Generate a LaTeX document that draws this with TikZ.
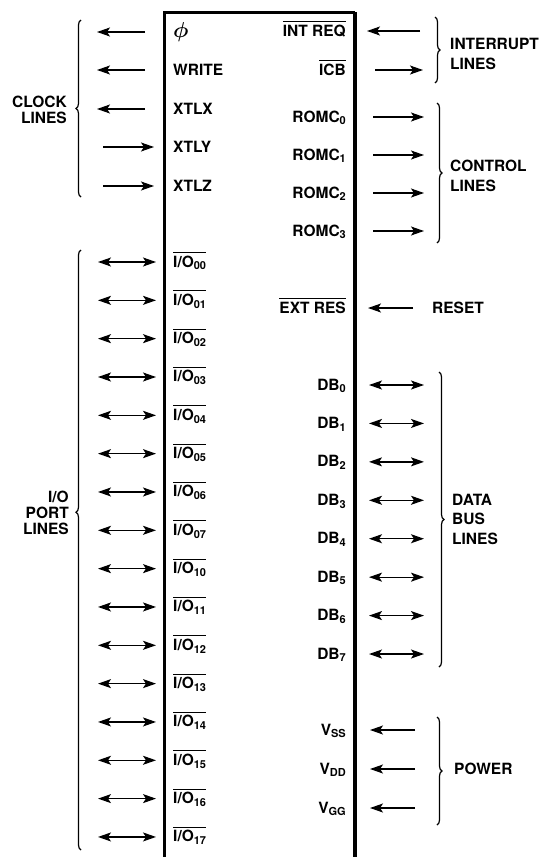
\documentclass[tikz,border=0pt]{standalone}
\usepackage{fontspec}
\usepackage{graphicx}
\setmainfont{TeX Gyre Heros}
\usetikzlibrary{arrows.meta,decorations.pathreplacing}
\newcommand\ovl[1]{\leavevmode\vbox{\hrule height 1.2pt\kern2.4pt\hbox{#1}}}
\newcommand\sbs[1]{\raisebox{-2.8pt}{\fontsize{11}{11}\selectfont #1}}
\begin{document}
\begin{tikzpicture}[x=1pt,y=-1pt,
  lbl/.style={font=\fontsize{15.5}{18}\selectfont\bfseries, inner sep=0pt},
  pinL/.style={lbl, anchor=base west},
  pinR/.style={lbl, anchor=base east},
  grpL/.style={font=\fontsize{15.5}{16}\selectfont\bfseries, inner sep=0pt, align=right, anchor=east},
  grpR/.style={font=\fontsize{15.5}{19.5}\selectfont\bfseries, inner sep=0pt, align=left, anchor=west},
  sig/.style={line width=1.3pt},
  arw/.style={sig, -{Stealth[length=13pt,width=9pt,inset=3pt]}},
  darw/.style={sig, {Stealth[length=13pt,width=9pt,inset=3pt]}-{Stealth[length=13pt,width=9pt,inset=3pt]}},
  brc/.style={line width=1.2pt, decorate, decoration={brace, amplitude=5pt}}
]
\useasboundingbox (0,0) rectangle (540,857);
% chip outline
\coordinate (bl) at (164,875);
\coordinate (tl) at (164,12);
\coordinate (tr) at (355,12);
\coordinate (br) at (355,875);
\draw[line width=3pt] (bl) -- (tl) -- (tr);
\draw[line width=3.8pt] (tr) -- (br);

% clock lines, outputs
\foreach \n/\t/\y in {phi/{\scalebox{1.5}{\boldmath$\phi$}}/32, write/WRITE/70, xtlx/XTLX/109} {
  \node[pinL] (\n) at (173,\y+5) {\t};
  \coordinate (\n-a) at (145,\y);
  \coordinate (\n-b) at (97,\y);
  \draw[arw] (\n-a) -- (\n-b);
}
% clock lines, inputs
\foreach \n/\t/\y in {xtly/XTLY/147, xtlz/XTLZ/186} {
  \node[pinL] (\n) at (173,\y+5) {\t};
  \coordinate (\n-a) at (103,\y);
  \coordinate (\n-b) at (154,\y);
  \draw[arw] (\n-a) -- (\n-b);
}
% I/O port lines
\foreach \i/\s in {0/00,1/01,2/02,3/03,4/04,5/05,6/06,7/07,8/10,9/11,10/12,11/13,12/14,13/15,14/16,15/17} {
  \pgfmathsetmacro\y{262+38.33*\i}
  \node[pinL] (io\s) at (173,\y+5) {\ovl{I/O\sbs{\s}}};
  \coordinate (io\s-a) at (98,\y);
  \coordinate (io\s-b) at (156,\y);
  \draw[darw] (io\s-a) -- (io\s-b);
}

% interrupt lines
\node[pinR] (intreq) at (346,36) {\ovl{INT REQ}};
\coordinate (intreq-a) at (420,31);
\coordinate (intreq-b) at (367,31);
\draw[arw] (intreq-a) -- (intreq-b);
\node[pinR] (icb) at (346,75) {\ovl{ICB}};
\coordinate (icb-a) at (375,70);
\coordinate (icb-b) at (423,70);
\draw[arw] (icb-a) -- (icb-b);

% control lines
\foreach \i/\y in {0/117,1/155,2/193,3/231} {
  \node[pinR] (romc\i) at (346,\y+5) {ROMC\sbs{\i}};
  \coordinate (romc\i-a) at (373,\y);
  \coordinate (romc\i-b) at (424,\y);
  \draw[arw] (romc\i-a) -- (romc\i-b);
}

% reset
\node[pinR] (extres) at (346,313) {\ovl{EXT RES}};
\coordinate (extres-a) at (413,308);
\coordinate (extres-b) at (368,308);
\draw[arw] (extres-a) -- (extres-b);

% data bus
\foreach \i in {0,...,7} {
  \pgfmathsetmacro\y{385+38.43*\i}
  \node[pinR] (db\i) at (346,\y+5) {DB\sbs{\i}};
  \coordinate (db\i-a) at (369,\y);
  \coordinate (db\i-b) at (424,\y);
  \draw[darw] (db\i-a) -- (db\i-b);
}

% power
\foreach \n/\s/\y in {vss/SS/730, vdd/DD/769, vgg/GG/808} {
  \node[pinR] (\n) at (346,\y+5) {V\sbs{\s}};
  \coordinate (\n-a) at (415,\y);
  \coordinate (\n-b) at (370,\y);
  \draw[arw] (\n-a) -- (\n-b);
}

% braces
\draw[brc] (81,197) -- (81,20);
\draw[brc, decoration={brace, amplitude=5pt, aspect=0.563}] (81,850) -- (81,250);
\draw[brc] (435,17) -- (435,83);
\draw[brc] (437,103) -- (437,243);
\draw[brc] (439,372) -- (439,667);
\draw[brc] (437,717) -- (437,825);

% group labels
\node[grpL] (clocklbl) at (67,110) {CLOCK\\LINES};
\node[grpL] (iolbl) at (69,513) {I/O\\PORT\\LINES};
\node[grpR] (intlbl) at (450,54) {INTERRUPT\\LINES};
\node[grpR] (ctllbl) at (450,176) {CONTROL\\LINES};
\node[lbl, anchor=base west] (resetlbl) at (432,313) {RESET};
\node[grpR] (datalbl) at (452,519) {DATA\\BUS\\LINES};
\node[grpR] (powerlbl) at (454,769) {POWER};
\end{tikzpicture}
\end{document}
